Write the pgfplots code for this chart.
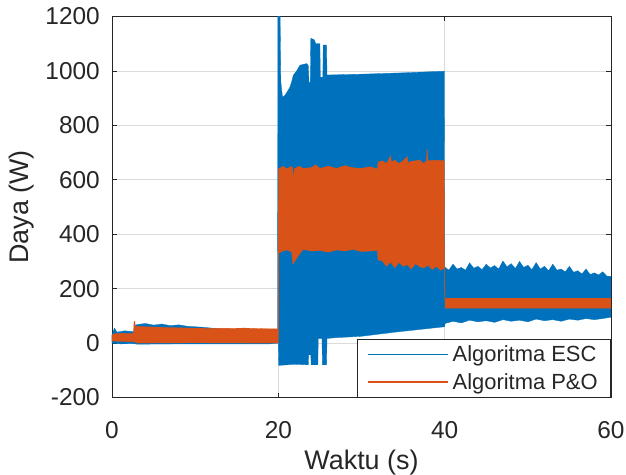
\documentclass[border=0pt]{standalone}
\usepackage{fontspec}
\setmainfont{Liberation Sans}
\usepackage{pgfplots}
\pgfplotsset{compat=1.18}
\definecolor{escblue}{rgb}{0,0.447,0.741}
\definecolor{poorange}{rgb}{0.85,0.325,0.098}
\definecolor{axgray}{rgb}{0.15,0.15,0.15}
\begin{document}
\begin{tikzpicture}
\begin{axis}[
  at={(0,0)}, anchor=south west,
  scale only axis, width=499bp, height=381bp,
  xmin=0, xmax=60, ymin=-200, ymax=1200,
  xtick={0,20,40,60}, ytick={-200,0,200,400,600,800,1000,1200},
  grid=major, major grid style={color=black!14, line width=0.6bp},
  axis line style={axgray, line width=0.8bp},
  tick style={axgray, line width=0.8bp},
  tick align=inside, major tick length=5bp,
  /pgf/number format/assume math mode=true,
  /pgf/number format/1000 sep={},
  tick label style={font=\fontsize{24.5}{28}\selectfont, text=axgray},
  yticklabel style={inner sep=0pt, xshift=-12bp},
  xticklabel style={inner sep=0pt, yshift=-24bp},
  xlabel={Waktu (s)}, ylabel={Daya (W)},
  label style={font=\fontsize{27}{31}\selectfont, text=axgray, inner sep=0pt},
  xlabel style={at={(axis description cs:0.5,-0.171)}, anchor=center},
  ylabel style={at={(axis description cs:-0.182,0.5)}, anchor=center},
  legend cell align=left,
  legend image code/.code={\draw[#1] (0bp,0bp) -- (80bp,0bp);},
  legend style={at={(1,0)}, anchor=south east, draw=axgray, line width=0.8bp,
    fill=white, font=\fontsize{22}{26}\selectfont, text=axgray,
    inner xsep=9.5bp, inner ysep=4bp, row sep=5bp,
    nodes={inner xsep=3.5bp, inner ysep=2.5bp},
    /tikz/every odd column/.append style={column sep=0bp}},
]
% ESC envelope (blue)
\addplot[fill=escblue, draw=escblue, line width=0.3bp, forget plot] coordinates {
(0,30) (0.3,55) (0.6,40) (1.5,45) (2.6,42) (2.7,62) (3,68) (4,72) (5,66) (6,70) (7,64) (8,67) (9,62) (10,60) (11,58) (12,55) (13,52) (16,50) (19.9,50)
(19.95,1250) (20.2,1250) (20.3,960) (20.5,904) (20.8,910) (21.2,930) (21.4,941) (21.6,960) (21.8,984) (22.2,1000) (22.6,1021) (23.4,1027) (23.6,1020) (23.7,954) (23.85,960)
(23.9,1120) (24.3,1115) (24.5,1100) (25.0,1100) (25.05,977) (25.35,977) (25.4,1095) (25.8,1095) (25.85,985) (30,988) (35,993) (39.95,999)
(40.0,280) (40.5,268) (41,290) (41.5,272) (42,278) (42.5,268) (43,295) (43.5,275) (44,282) (44.5,270) (45,290) (45.5,276) (46,285) (46.5,272) (47,302) (47.5,280) (48,292) (48.5,274) (49,300) (49.5,278) (50,286) (50.5,270) (51,296) (51.5,272) (52,282) (52.5,266) (53,290) (53.5,268) (54,272) (54.5,262) (55,282) (55.5,260) (56,266) (56.5,254) (57,272) (57.5,252) (58,258) (58.5,250) (59,262) (59.5,246) (60,245)
(60,95) (59,90) (58,86) (57,90) (56,84) (55,88) (54,80) (53,86) (52,82) (51,88) (50,78) (49,84) (48,80) (47,86) (46,76) (45,82) (44,78) (43,84) (42,74) (41,80) (40.05,72)
(40,60) (37,50) (34,40) (30,25) (27,20) (25.85,17) (25.8,-80) (25.3,-80) (25.25,16) (24.8,16) (24.75,-80) (23.95,-80) (23.9,-43) (23.65,-43) (23.6,-80) (22,-78) (20.05,-82)
(20,0) (19,-3) (10,-3) (3,-4) (2.6,-2) (1,-3) (0,0)
} -- cycle;
% P&O envelope (orange)
\addplot[fill=poorange, draw=poorange, line width=0.3bp, forget plot] coordinates {
(0,30) (0.5,36) (2.5,35) (2.6,40) (2.65,80) (2.75,80) (2.8,62) (4,60) (6,58) (8,56) (10,55) (12,54) (14,54) (16,55) (18,53) (19.95,52)
(20.0,640) (20.6,650) (21,640) (21.5,648) (21.7,648) (21.8,595) (21.9,640) (22.5,650) (23,642) (24,645) (24.5,655) (25,642) (26,650) (27,642) (28,652) (29,644) (30,642) (31,648) (31.9,640)
(32,665) (32.5,670) (33,660) (33.5,688) (33.6,665) (34,672) (34.5,660) (35,670) (35.5,685) (35.6,662) (36,668) (37,672) (37.5,660) (37.8,670) (37.9,714) (38,670) (39,672) (39.95,670)
(40,165) (60,165) (60,128) (40.05,128)
(40,275) (39.5,268) (39,282) (38.5,270) (38,286) (37.5,276) (37,280) (36.5,292) (36,272) (35.5,288) (35,282) (34.5,296) (34,276) (33.5,298) (33,282) (32.5,302) (32,305)
(31.9,340) (30,336) (29,344) (28,338) (27,342) (26,334) (25,340) (24,338) (23,344) (22.5,325) (21.75,290) (21.6,335) (21,342) (20.5,338) (20.05,330)
(20,0) (18,0) (10,1) (3,0) (2.6,5) (1,6) (0,8)
} -- cycle;
\addlegendimage{escblue, line width=1.8bp}
\addlegendentry{Algoritma ESC}
\addlegendimage{poorange, line width=1.8bp}
\addlegendentry{Algoritma P\&O}
\end{axis}
\pgfresetboundingbox
\path[use as bounding box] (-112bp,-77.5bp) rectangle (514bp,397.5bp);
\end{tikzpicture}
\end{document}
